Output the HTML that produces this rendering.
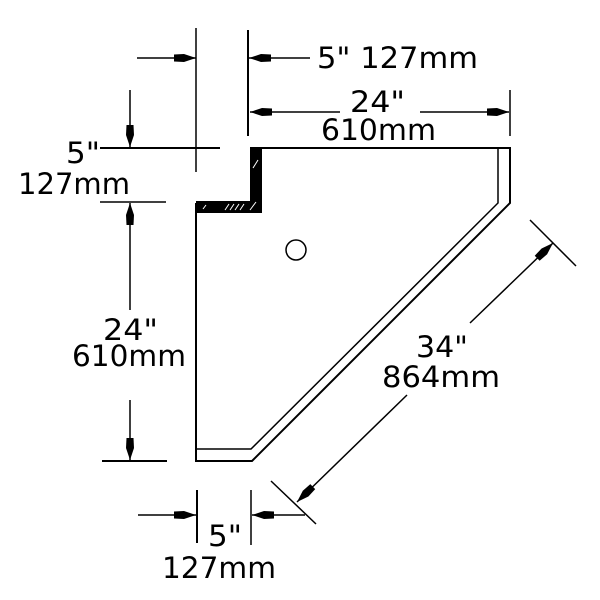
<!DOCTYPE html>
<html><head><style>
html,body{margin:0;padding:0;background:#fff;}
svg{display:block;}
text{font-family:"DejaVu Sans","Liberation Sans",sans-serif;font-size:29px;fill:#000;}
</style></head><body>
<svg width="600" height="600" viewBox="0 0 600 600" xmlns="http://www.w3.org/2000/svg">
<defs>
<marker id="a" viewBox="0 0 22 10" refX="22" refY="5" markerWidth="22" markerHeight="10" markerUnits="userSpaceOnUse" orient="auto">
<path d="M0,1.5 L10,1 L22,5 L10,9 L0,8.5 Z" fill="#000"/>
</marker>
</defs>
<g stroke="#000" fill="none" stroke-width="1.5">
<path d="M250,148 L510,148 L510,203 L252,461 L196,461 L196,203" stroke-width="2"/>
<path d="M498,149 L498,203 L251,449 L196,449"/>
<line x1="196" y1="28" x2="196" y2="172"/>
<line x1="248" y1="30" x2="248" y2="136" stroke-width="2"/>
<line x1="100" y1="148" x2="220" y2="148" stroke-width="2"/>
<line x1="100" y1="202" x2="166" y2="202"/>
<line x1="102" y1="461" x2="167" y2="461" stroke-width="2"/>
<line x1="510" y1="90" x2="510" y2="136"/>
<line x1="197" y1="490" x2="197" y2="543" stroke-width="2"/>
<line x1="251" y1="490" x2="251" y2="545"/>
<line x1="530" y1="220" x2="576" y2="266"/>
<line x1="271" y1="481" x2="316" y2="524"/>
<line x1="137" y1="58" x2="196" y2="58" marker-end="url(#a)"/>
<line x1="310" y1="58" x2="249" y2="58" marker-end="url(#a)"/>
<line x1="340" y1="112" x2="250" y2="112" marker-end="url(#a)"/>
<line x1="420" y1="112" x2="509" y2="112" marker-end="url(#a)"/>
<line x1="130" y1="90" x2="130" y2="147" marker-end="url(#a)"/>
<line x1="130" y1="310" x2="130" y2="203" marker-end="url(#a)"/>
<line x1="130" y1="400" x2="130" y2="460" marker-end="url(#a)"/>
<line x1="138" y1="515" x2="196" y2="515" marker-end="url(#a)"/>
<line x1="305" y1="515" x2="252" y2="515" marker-end="url(#a)"/>
<line x1="470" y1="323" x2="553" y2="243" marker-end="url(#a)"/>
<line x1="407" y1="395" x2="297" y2="502" marker-end="url(#a)"/>
<circle cx="296" cy="250" r="10"/>
</g>
<path d="M250,148 L262,148 L262,213 L196,213 L196,201 L250,201 Z" fill="#000"/>
<g stroke="#fff" stroke-width="1">
<line x1="253" y1="168" x2="258" y2="160"/><line x1="203" y1="209" x2="206" y2="205"/>
<line x1="225" y1="210" x2="229" y2="204"/><line x1="230" y1="210" x2="234" y2="204"/><line x1="235" y1="210" x2="239" y2="204"/><line x1="240" y1="210" x2="244" y2="204"/><line x1="250" y1="210" x2="256" y2="202"/>
</g>
<text x="317" y="68" textLength="161" lengthAdjust="spacingAndGlyphs">5" 127mm</text>
<text x="350" y="112" textLength="55" lengthAdjust="spacingAndGlyphs">24"</text>
<text x="321" y="140" textLength="115" lengthAdjust="spacingAndGlyphs">610mm</text>
<text x="66" y="163" textLength="34" lengthAdjust="spacingAndGlyphs">5"</text>
<text x="18" y="194" textLength="112" lengthAdjust="spacingAndGlyphs">127mm</text>
<text x="103" y="340" textLength="55" lengthAdjust="spacingAndGlyphs">24"</text>
<text x="72" y="366" textLength="114" lengthAdjust="spacingAndGlyphs">610mm</text>
<text x="416" y="357" textLength="52" lengthAdjust="spacingAndGlyphs">34"</text>
<text x="382" y="387" textLength="118" lengthAdjust="spacingAndGlyphs">864mm</text>
<text x="208" y="546" textLength="34" lengthAdjust="spacingAndGlyphs">5"</text>
<text x="162" y="578" textLength="114" lengthAdjust="spacingAndGlyphs">127mm</text>
</svg>
</body></html>
